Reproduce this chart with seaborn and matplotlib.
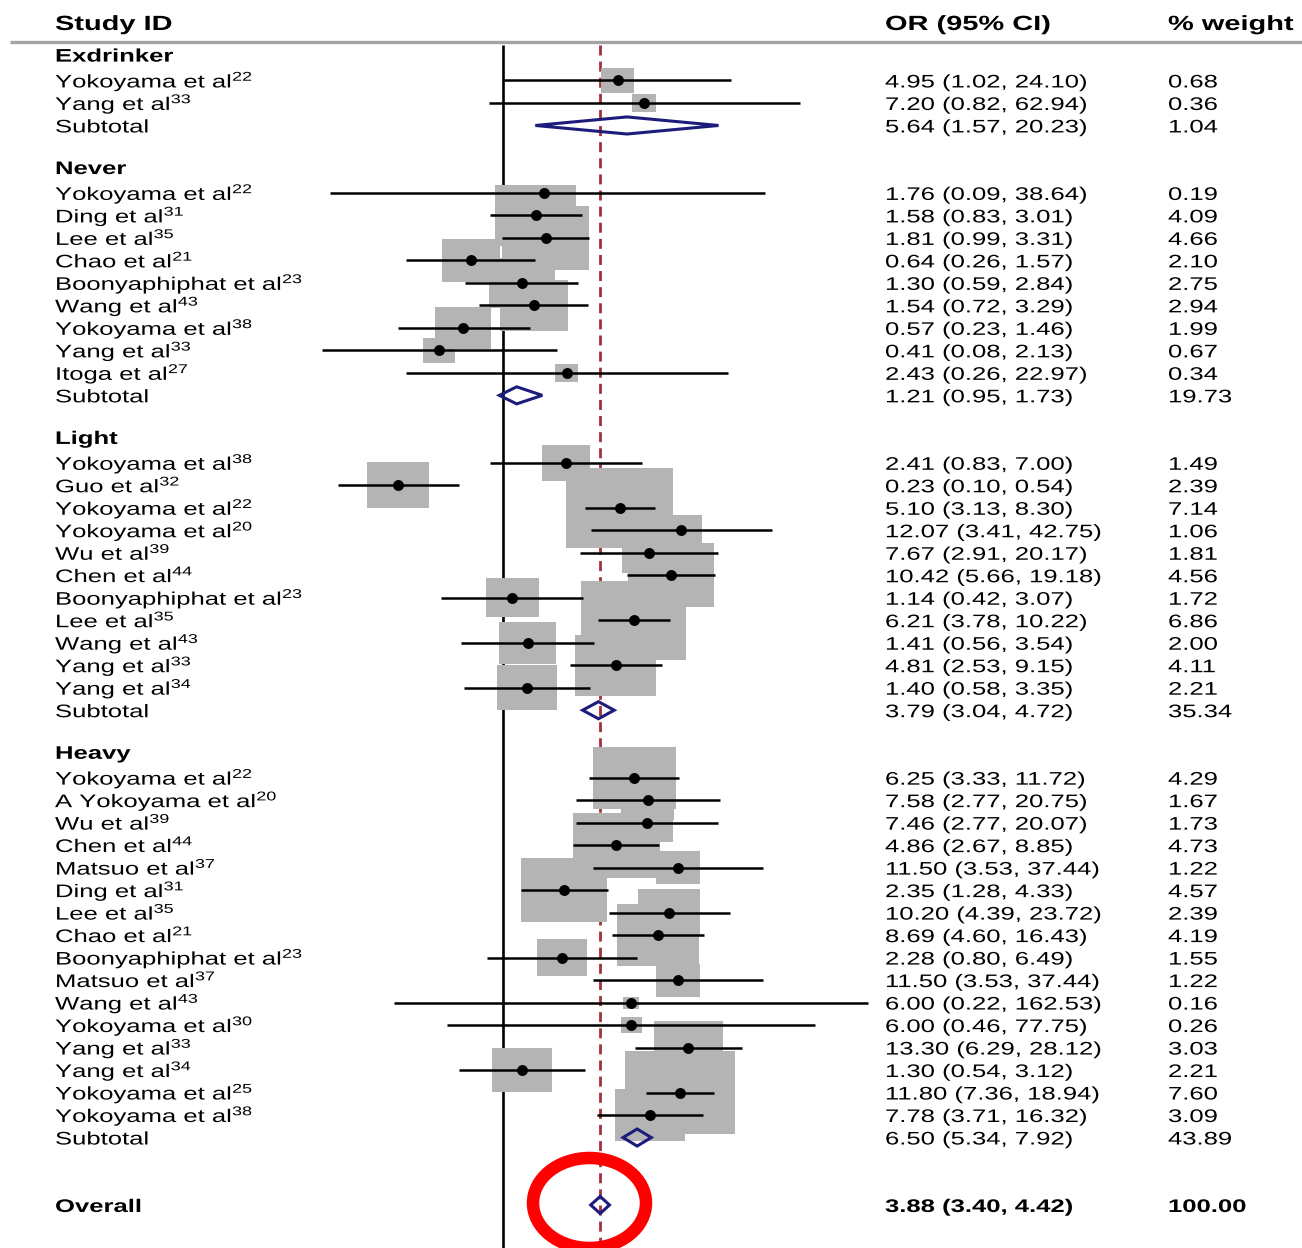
import numpy as np
import pandas as pd
import matplotlib
matplotlib.use("Agg")
import matplotlib.pyplot as plt
import seaborn as sns
from matplotlib.patches import Rectangle, Polygon, Ellipse
from matplotlib.patheffects import AbstractPathEffect
from matplotlib.transforms import Affine2D

# ---------------------------------------------------------------- data
groups = ["Exdrinker", "Never", "Light", "Heavy"]

study_group = (["Exdrinker"] * 2 + ["Never"] * 9 + ["Light"] * 11 + ["Heavy"] * 16)

study_names = [
    # Exdrinker
    "Yokoyama et al", "Yang et al",
    # Never
    "Yokoyama et al", "Ding et al", "Lee et al", "Chao et al", "Boonyaphiphat et al",
    "Wang et al", "Yokoyama et al", "Yang et al", "Itoga et al",
    # Light
    "Yokoyama et al", "Guo et al", "Yokoyama et al", "Yokoyama et al", "Wu et al",
    "Chen et al", "Boonyaphiphat et al", "Lee et al", "Wang et al", "Yang et al", "Yang et al",
    # Heavy
    "Yokoyama et al", "A Yokoyama et al", "Wu et al", "Chen et al", "Matsuo et al",
    "Ding et al", "Lee et al", "Chao et al", "Boonyaphiphat et al", "Matsuo et al",
    "Wang et al", "Yokoyama et al", "Yang et al", "Yang et al", "Yokoyama et al",
    "Yokoyama et al",
]

study_refs = [
    22, 33,
    22, 31, 35, 21, 23, 43, 38, 33, 27,
    38, 32, 22, 20, 39, 44, 23, 35, 43, 33, 34,
    22, 20, 39, 44, 37, 31, 35, 21, 23, 37, 43, 30, 33, 34, 25, 38,
]

study_or = [
    4.95, 7.20,
    1.76, 1.58, 1.81, 0.64, 1.30, 1.54, 0.57, 0.41, 2.43,
    2.41, 0.23, 5.10, 12.07, 7.67, 10.42, 1.14, 6.21, 1.41, 4.81, 1.40,
    6.25, 7.58, 7.46, 4.86, 11.50, 2.35, 10.20, 8.69, 2.28, 11.50, 6.00, 6.00,
    13.30, 1.30, 11.80, 7.78,
]

study_lo = [
    1.02, 0.82,
    0.09, 0.83, 0.99, 0.26, 0.59, 0.72, 0.23, 0.08, 0.26,
    0.83, 0.10, 3.13, 3.41, 2.91, 5.66, 0.42, 3.78, 0.56, 2.53, 0.58,
    3.33, 2.77, 2.77, 2.67, 3.53, 1.28, 4.39, 4.60, 0.80, 3.53, 0.22, 0.46,
    6.29, 0.54, 7.36, 3.71,
]

study_hi = [
    24.10, 62.94,
    38.64, 3.01, 3.31, 1.57, 2.84, 3.29, 1.46, 2.13, 22.97,
    7.00, 0.54, 8.30, 42.75, 20.17, 19.18, 3.07, 10.22, 3.54, 9.15, 3.35,
    11.72, 20.75, 20.07, 8.85, 37.44, 4.33, 23.72, 16.43, 6.49, 37.44, 162.53, 77.75,
    28.12, 3.12, 18.94, 16.32,
]

study_weight = [
    0.68, 0.36,
    0.19, 4.09, 4.66, 2.10, 2.75, 2.94, 1.99, 0.67, 0.34,
    1.49, 2.39, 7.14, 1.06, 1.81, 4.56, 1.72, 6.86, 2.00, 4.11, 2.21,
    4.29, 1.67, 1.73, 4.73, 1.22, 4.57, 2.39, 4.19, 1.55, 1.22, 0.16, 0.26,
    3.03, 2.21, 7.60, 3.09,
]

subtotal_or = [5.64, 1.21, 3.79, 6.50]
subtotal_lo = [1.57, 0.95, 3.04, 5.34]
subtotal_hi = [20.23, 1.73, 4.72, 7.92]
subtotal_weight = [1.04, 19.73, 35.34, 43.89]

overall_or, overall_lo, overall_hi, overall_weight = 3.88, 3.40, 4.42, 100.00

# ---------------------------------------------------------------- style
sns.set_theme(style="white")
plt.rcParams["font.family"] = ["Liberation Sans", "DejaVu Sans"]
plt.rcParams["mathtext.fontset"] = "custom"
plt.rcParams["mathtext.rm"] = "Liberation Sans"
plt.rcParams["mathtext.it"] = "Liberation Sans:italic"
plt.rcParams["mathtext.bf"] = "Liberation Sans:bold"

W, H = 1302, 1248
PX_PER_DECADE = 165.0      # horizontal log scale
X_NULL_PX = 503.0          # pixel column of OR = 1
ROW_PX = 22.49             # row pitch
ROW0_PX = 58.0             # pixel row of the first line
BODY = 13.1
HEAD = 14.8
TEXT_STRETCH = 1.41

BOX = "#b4b4b4"
NAVY = "#1c1c7c"
DASH_RED = "#a3303a"


class WideText(AbstractPathEffect):
    """Render glyphs horizontally widened around the text origin."""

    def __init__(self, sx):
        super().__init__()
        self.sx = sx

    def draw_path(self, renderer, gc, tpath, affine, rgbFace=None):
        renderer.draw_path(gc, tpath, Affine2D().scale(self.sx, 1.0) + affine, rgbFace)


# ---------------------------------------------------------------- row layout
study_rows = np.zeros(len(study_names))
header_rows, subtotal_rows = [], []
r = 0
for g in groups:
    header_rows.append(r - 0.15)
    r += 1
    for i, sg in enumerate(study_group):
        if sg == g:
            study_rows[i] = r
            r += 1
    subtotal_rows.append(r)
    r += 2
overall_row = r + 1

df = pd.DataFrame({"or": study_or, "lo": study_lo, "hi": study_hi,
                   "w": study_weight, "row": study_rows})

# ---------------------------------------------------------------- figure
fig = plt.figure(figsize=(W / 100, H / 100), dpi=100)
ax = fig.add_axes([0, 0, 1, 1])
ax.set_xscale("log")

y_bottom = (H - ROW0_PX) / ROW_PX
y_top = -ROW0_PX / ROW_PX

# weight boxes (area proportional to weight)
for o, w, y in zip(df["or"], df["w"], df["row"]):
    hw = 20.0 * np.sqrt(w) / PX_PER_DECADE
    hh = 15.0 * np.sqrt(w) / ROW_PX
    x0, x1 = o * 10 ** (-hw), o * 10 ** hw
    ax.add_patch(Rectangle((x0, y - hh), x1 - x0, 2 * hh, facecolor=BOX,
                           edgecolor="none", zorder=1))

# confidence intervals
ax.hlines(df["row"], df["lo"], df["hi"], color="black", lw=1.8, zorder=2)

# point estimates
sns.scatterplot(data=df, x="or", y="row", ax=ax, color="black", s=62,
                linewidth=0, zorder=3, legend=False)


def diamond(o, lo, hi, y, hh=0.38):
    pts = [(lo, y), (o, y - hh), (hi, y), (o, y + hh)]
    ax.add_patch(Polygon(pts, closed=True, fill=False, edgecolor=NAVY,
                         lw=2.2, zorder=3, joinstyle="miter"))


for o, lo, hi, y in zip(subtotal_or, subtotal_lo, subtotal_hi, subtotal_rows):
    diamond(o, lo, hi, y)
diamond(overall_or, overall_lo, overall_hi, overall_row)

# null line and overall-effect line
line_top = (45 - ROW0_PX) / ROW_PX
ax.plot([1, 1], [line_top, y_bottom], color="black", lw=1.9, zorder=0.5,
        solid_capstyle="butt")
ax.plot([overall_or, overall_or], [line_top, y_bottom - 0.2], color=DASH_RED,
        lw=2.0, ls=(0, (3.6, 2.2)), zorder=0.5)

ax.set_xlim(10 ** (-X_NULL_PX / PX_PER_DECADE),
            10 ** ((W - X_NULL_PX) / PX_PER_DECADE))
ax.set_ylim(y_bottom, y_top)

# header rule
tt = ax.get_yaxis_transform()
rule_row = (42 - ROW0_PX) / ROW_PX
ax.plot([10 / W, 1.0], [rule_row, rule_row], transform=tt, color="#a3a3a3",
        lw=2.4, clip_on=False, solid_capstyle="butt")

# ---------------------------------------------------------------- text columns
X_LABEL, X_CI, X_WT = 55, 885, 1168
wide = [WideText(TEXT_STRETCH)]


def put(xpx, baseline_row, s, bold=False, size=BODY):
    ax.text(xpx / W, baseline_row, s, transform=tt, ha="left", va="baseline",
            fontsize=size, fontweight="bold" if bold else "normal",
            color="black", path_effects=wide)


BASE = 0.31
head_row = (30 - ROW0_PX) / ROW_PX
put(X_LABEL, head_row, "Study ID", bold=True, size=HEAD)
put(X_CI, head_row, "OR (95% CI)", bold=True, size=HEAD)
put(X_WT, head_row, "% weight", bold=True, size=HEAD)

for g, y in zip(groups, header_rows):
    put(X_LABEL, y + BASE, g, bold=True)


def ci_text(o, lo, hi):
    return f"{o:.2f} ({lo:.2f}, {hi:.2f})"


for name, ref, o, lo, hi, w, y in zip(study_names, study_refs, study_or, study_lo,
                                      study_hi, study_weight, study_rows):
    put(X_LABEL, y + BASE, f"{name}$^{{{ref}}}$")
    put(X_CI, y + BASE, ci_text(o, lo, hi))
    put(X_WT, y + BASE, f"{w:.2f}")

for o, lo, hi, w, y in zip(subtotal_or, subtotal_lo, subtotal_hi, subtotal_weight,
                           subtotal_rows):
    put(X_LABEL, y + BASE, "Subtotal")
    put(X_CI, y + BASE, ci_text(o, lo, hi))
    put(X_WT, y + BASE, f"{w:.2f}")

put(X_LABEL, overall_row + BASE, "Overall", bold=True)
put(X_CI, overall_row + BASE, ci_text(overall_or, overall_lo, overall_hi), bold=True)
put(X_WT, overall_row + BASE, f"{overall_weight:.2f}", bold=True)

# highlight ring around the pooled estimate
ring = Ellipse((589.5 / W, 1 - 1203 / H), 113 / W, 90 / H, transform=fig.transFigure,
               fill=False, edgecolor="#ff0000", lw=9, zorder=10, clip_on=False)
ax.add_patch(ring)

ax.set_axis_off()
fig.savefig("out.png", dpi=100)
